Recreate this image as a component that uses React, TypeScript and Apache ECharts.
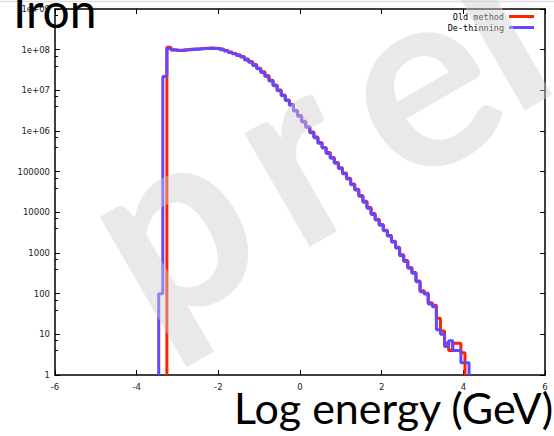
import React, { useEffect, useRef } from "react";
import * as echarts from "echarts";

// Histogram bin edges in log10(E/GeV)
const binEdges = [
  -3.46, -3.36, -3.26, -3.16, -3.06, -2.96, -2.86, -2.76, -2.66, -2.56, -2.46, -2.36, -2.26, -2.16, -2.06,
  -1.96, -1.86, -1.76, -1.66, -1.56, -1.46, -1.36, -1.26, -1.16, -1.06, -0.96, -0.86, -0.76, -0.66, -0.56,
  -0.46, -0.36, -0.26, -0.16, -0.06, 0.04, 0.14, 0.24, 0.34, 0.44, 0.54, 0.64, 0.74, 0.84, 0.94, 1.04, 1.14,
  1.24, 1.34, 1.44, 1.54, 1.64, 1.74, 1.84, 1.94, 2.04, 2.14, 2.24, 2.34, 2.44, 2.54, 2.64, 2.74, 2.84, 2.94,
  3.04, 3.14, 3.24, 3.34, 3.44, 3.54, 3.64, 3.74, 3.84, 3.94, 4.04, 4.14, 4.24, 4.34,
];

// De-thinning: bins 0..75
const dethinFirstBin = 0;
const dethinValues = [
  100, 2.2e7, 1.07e8, 9.8e7, 9.5e7, 9.6e7, 9.8e7, 1.0e8, 1.02e8, 1.03e8, 1.05e8, 1.07e8, 1.08e8, 1.07e8, 1.05e8,
  1.0e8, 9.3e7, 8.5e7, 7.9e7, 7.2e7, 6.6e7, 5.6e7, 4.9e7, 4.1e7, 3.4e7, 2.75e7, 2.2e7, 1.7e7, 1.3e7, 9.8e6,
  7.4e6, 5.6e6, 4.3e6, 3.1e6, 2.3e6, 1.66e6, 1.23e6, 9.1e5, 6.8e5, 5.0e5, 3.8e5, 2.8e5, 2.14e5, 1.62e5, 1.2e5,
  8.9e4, 6.6e4, 4.8e4, 3.55e4, 2.5e4, 1.78e4, 1.26e4, 8.9e3, 6.5e3, 4.8e3, 3.5e3, 2.6e3, 1.86e3, 1.32e3, 850,
  620, 420, 316, 195, 112, 98, 56, 48, 13, 10, 5, 7, 4, 4, 2, 2,
];

// Old method: bins 2..74, then a lone bin 78
const oldFirstBin = 2;
const oldValues = [
  1.15e8, 1.0e8, 9.7e7, 9.8e7, 1.0e8, 1.02e8, 1.04e8, 1.05e8, 1.07e8, 1.09e8, 1.1e8, 1.09e8, 1.07e8,
  1.03e8, 9.6e7, 8.8e7, 8.1e7, 7.5e7, 6.8e7, 5.9e7, 5.1e7, 4.3e7, 3.5e7, 2.85e7, 2.3e7, 1.78e7, 1.35e7, 1.02e7,
  7.7e6, 5.8e6, 4.5e6, 3.2e6, 2.4e6, 1.73e6, 1.28e6, 9.5e5, 7.1e5, 5.2e5, 3.95e5, 2.95e5, 2.22e5, 1.69e5, 1.25e5,
  9.3e4, 6.9e4, 5.0e4, 3.7e4, 2.6e4, 1.86e4, 1.32e4, 9.3e3, 6.8e3, 5.0e3, 3.65e3, 2.7e3, 1.95e3, 1.38e3, 900,
  650, 440, 330, 205, 118, 102, 60, 52, 25, 12, 6, 4, 6, 6, 3.5,
];
const oldLoneBin = 78;
const oldLoneValue = 1;

const xTicks = [-6, -4, -2, 0, 2, 4, 6];
const yTickLabels = ["1", "10", "100", "1000", "10000", "100000", "1e+06", "1e+07", "1e+08", "1e+09"];

const seriesNames = ["Old method", "De-thinning"];
const watermarkLetters = ["p", "r", "e", "l"];

function histPoints(first: number, vals: number[]): any[] {
  const pts: any[] = [[binEdges[first], 1]];
  vals.forEach((v, i) => pts.push([binEdges[first + i], v]));
  const end = binEdges[first + vals.length];
  pts.push([end, vals[vals.length - 1]]);
  pts.push([end, 1]);
  return pts;
}

export default function App() {
  const ref = useRef<HTMLDivElement>(null);
  useEffect(() => {
    if (!ref.current) return;
    const chart = echarts.init(ref.current, undefined, { renderer: "svg" });

    const oldPts = histPoints(oldFirstBin, oldValues);
    oldPts.push(null as any);
    oldPts.push([binEdges[oldLoneBin], oldLoneValue]);
    oldPts.push([binEdges[oldLoneBin + 1], oldLoneValue]);
    const newPts = histPoints(dethinFirstBin, dethinValues);

    const labelFont = { fontFamily: "DejaVu Sans", fontSize: 8.5, color: "#222" };
    const axisLine = { show: true, onZero: false, lineStyle: { color: "#000", width: 1.5 } };
    const tick = { show: true, inside: true, length: 5, lineStyle: { color: "#000" } };

    // watermark letters placement (centers along a 30deg baseline)
    const wmPos = [
      [165, 216],
      [288, 145],
      [412, 72],
      [489, 17],
    ];

    chart.setOption({
      animation: false,
      backgroundColor: "#fff",
      grid: { left: 55, right: 9, top: 9, bottom: 61, containLabel: false },
      legend: {
        data: seriesNames,
        orient: "vertical",
        right: 20,
        top: 12,
        padding: 0,
        align: "right",
        icon: "rect",
        itemWidth: 25,
        itemHeight: 3,
        itemGap: 2,
        textStyle: { fontFamily: "DejaVu Sans Mono", fontSize: 8.5, color: "#000" },
      },
      xAxis: [
        {
          type: "value",
          min: -6,
          max: 6,
          interval: 2,
          axisLine,
          axisTick: tick,
          axisLabel: {
            ...labelFont,
            margin: 7,
            formatter: (v: number) => String(xTicks.find((t) => t === v) ?? v),
          },
          splitLine: { show: false },
        },
        {
          type: "value",
          position: "top",
          min: -6,
          max: 6,
          interval: 2,
          axisLine,
          axisTick: tick,
          axisLabel: { show: false },
          splitLine: { show: false },
        },
      ],
      yAxis: [
        {
          type: "log",
          logBase: 10,
          min: 1,
          max: 1e9,
          position: "left",
          axisLine,
          axisTick: tick,
          minorTick: { show: true, splitNumber: 3, length: 3, lineStyle: { color: "#000" } },
          axisLabel: {
            ...labelFont,
            margin: 5,
            formatter: (v: number) => yTickLabels[Math.round(Math.log10(v))] ?? String(v),
          },
          splitLine: { show: false },
        },
        {
          type: "log",
          logBase: 10,
          min: 1,
          max: 1e9,
          position: "right",
          axisLine,
          axisTick: tick,
          axisLabel: { show: false },
          splitLine: { show: false },
        },
      ],
      series: [
        {
          name: seriesNames[0],
          type: "line",
          step: "end",
          data: oldPts,
          showSymbol: false,
          symbol: "none",
          connectNulls: false,
          lineStyle: { color: "#ff2200", width: 3 },
          itemStyle: { color: "#ff2200" },
          z: 2,
        },
        {
          name: seriesNames[1],
          type: "line",
          step: "end",
          data: newPts,
          showSymbol: false,
          symbol: "none",
          lineStyle: { color: "#6446ff", width: 3 },
          itemStyle: { color: "#6446ff" },
          z: 3,
        },
      ],
      graphic: [
        {
          type: "line",
          z: 50,
          shape: { x1: 0, y1: 1.5, x2: 554, y2: 1.5 },
          style: { stroke: "#dddddd", lineWidth: 1.5 },
        },
        ...watermarkLetters.map((ch, i) => ({
          type: "text",
          z: 100,
          x: wmPos[i][0],
          y: wmPos[i][1],
          rotation: Math.PI / 6,
          silent: true,
          style: {
            text: ch,
            font: "bold 255px Lato",
            fill: "rgba(207,207,207,0.45)",
            align: "center",
            verticalAlign: "middle",
          },
        })),
        {
          type: "text",
          z: 200,
          x: 13,
          y: 9,
          style: {
            text: "Iron",
            font: "48px Lato",
            lineHeight: 36,
            fill: "#000",
            align: "left",
            verticalAlign: "middle",
          },
        },
        {
          type: "text",
          z: 200,
          x: 234,
          y: 407,
          style: {
            text: "Log energy (GeV)",
            font: "43px Lato",
            lineHeight: 28,
            fill: "#000",
            align: "left",
            verticalAlign: "middle",
          },
        },
      ],
    });
    return () => chart.dispose();
  }, []);
  return (
    <div
      ref={ref}
      style={{ position: "fixed", left: 0, top: 0, width: 554, height: 436, background: "#fff" }}
    />
  );
}
